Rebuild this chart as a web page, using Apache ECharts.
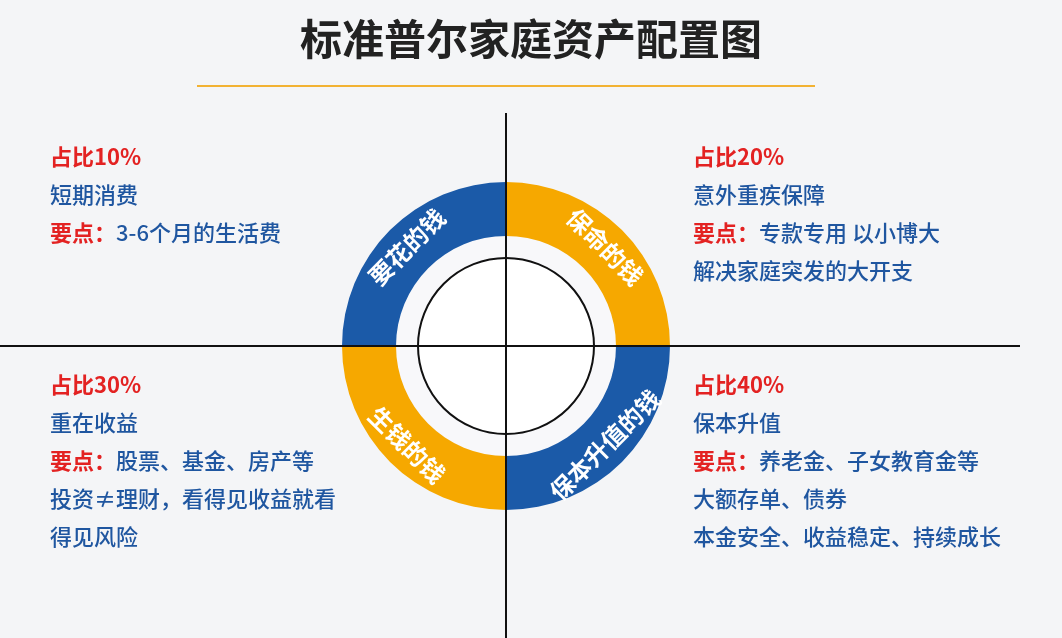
<!DOCTYPE html><html><head><meta charset="utf-8"><script src="https://cdn.jsdelivr.net/npm/echarts@6/dist/echarts.min.js"></script>
<style>html,body{margin:0;background:#f4f5f7}#c{width:1062px;height:638px}</style></head><body><div id="c"></div><script>
const ringNames=['保命的钱','保本升值的钱','生钱的钱','要花的钱'];
const ringValues=[25,25,25,25];
const ringColors=['#F6A800','#1B5AA8','#F6A800','#1B5AA8'];
const shares=['占比20%','占比40%','占比30%','占比10%'];
const blockLines=[
 ['意外重疾保障','要点：专款专用 以小博大','解决家庭突发的大开支'],
 ['保本升值','要点：养老金、子女教育金等','大额存单、债券','本金安全、收益稳定、持续成长'],
 ['重在收益','要点：股票、基金、房产等','投资≠理财，看得见收益就看','得见风险'],
 ['短期消费','要点：3-6个月的生活费']];
const blockPos=[[693,158],[693,386],[50,386],[50,158]];
const cx=506,cy=346;
const font='"Noto Sans CJK SC",sans-serif';
const g=[
 {type:'text',left:'center',top:18,style:{text:'标准普尔家庭资产配置图',font:'bold 42px '+font,fill:'#222'}},
 {type:'line',shape:{x1:197,y1:86,x2:815,y2:86},style:{stroke:'#F2B233',lineWidth:2}},
 {type:'circle',shape:{cx:cx,cy:cy,r:110},style:{fill:'#f8f8fa'},z:-1},
 {type:'circle',shape:{cx:cx,cy:cy,r:88},style:{fill:'#fff',stroke:'#111',lineWidth:2},z:5},
 {type:'line',shape:{x1:0,y1:cy,x2:1020,y2:cy},style:{stroke:'#111',lineWidth:2},z:10},
 {type:'line',shape:{x1:cx,y1:113,x2:cx,y2:638},style:{stroke:'#111',lineWidth:2},z:10}
];
blockLines.forEach((ls,i)=>{
 const [x,y]=blockPos[i];
 g.push({type:'text',x:x,y:y-12,style:{text:shares[i],font:'bold 22px '+font,fill:'#E32222'}});
 ls.forEach((t,j)=>{
  let txt=t.startsWith('要点：')?'{r|要点：}{b|'+t.slice(3)+'}':'{b|'+t+'}';
  g.push({type:'text',x:x,y:y+26+j*38,style:{text:txt,rich:{r:{font:'bold 22px '+font,fill:'#E32222'},b:{font:'500 22px '+font,fill:'#1F56A0'}}}});
 });
});
echarts.init(document.getElementById('c')).setOption({
 backgroundColor:'#f4f5f7',
 series:[{type:'pie',center:[cx,cy],radius:[110,164],startAngle:90,clockwise:true,silent:true,
  data:ringNames.map((n,i)=>({name:n,value:ringValues[i],itemStyle:{color:ringColors[i]}})),
  label:{position:'inside',rotate:'tangential',color:'#fff',fontSize:24,fontWeight:'bold',fontFamily:'Noto Sans CJK SC',formatter:'{b}'},
  labelLine:{show:false}}],
 graphic:g
});
</script></body></html>
